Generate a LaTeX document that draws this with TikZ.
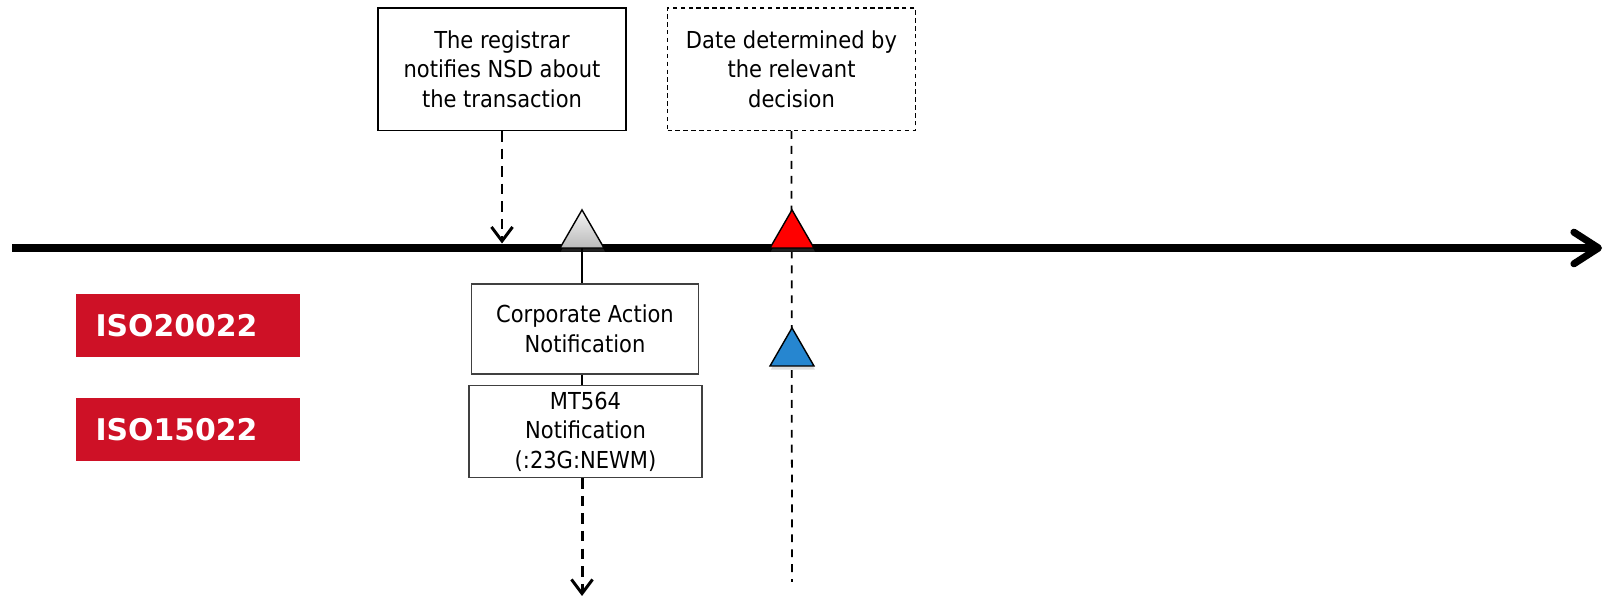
\documentclass[tikz,border=0pt]{standalone}
\usepackage{fontspec}
\setmainfont{DejaVu Sans Condensed}
\newfontfamily\isofont{DejaVu Sans}
\usetikzlibrary{shapes.geometric,arrows.meta,shadows}

\definecolor{isored}{RGB}{206,17,38}
\definecolor{markblue}{RGB}{38,134,208}

\tikzset{
	note/.style={draw, line width=0.6pt, align=center, minimum width=4.96cm, minimum height=2.45cm, font=\fontsize{13.3}{17}\selectfont},
	msg/.style={draw=black!75, line width=0.6pt, fill=white, align=center, minimum width=4.54cm, minimum height=1.8cm, font=\fontsize{13.3}{17}\selectfont},
	iso/.style={fill=isored, text=white, font=\isofont\bfseries\fontsize{17}{20}\selectfont, minimum height=1.26cm, inner xsep=0.39cm, text width=3.7cm, align=left},
	marker/.style={regular polygon, regular polygon sides=3, minimum size=1.016cm, inner sep=0pt, outer sep=0pt, draw, line width=0.8pt, anchor=south, drop shadow={shadow xshift=0.5pt, shadow yshift=-2pt, opacity=0.25}},
	flow/.style={dash pattern=on 6pt off 4pt, line width=1.7pt, -{Straight Barb[length=8pt,width=12pt]}},
	guide/.style={dash pattern=on 4.5pt off 4pt, line width=1pt},
}

\begin{document}
\begin{tikzpicture}

	\useasboundingbox (0,0) rectangle (32.24,11.98);

	% boxes above the time line
	\node(box1) at (10.04,10.595)[note]{The registrar\\notifies NSD about\\the transaction};
	\node(box2) at (15.83,10.595)[note, dash pattern=on 2.5pt off 2pt]{Date determined by\\the relevant\\decision};

	% time line
	\coordinate(start) at (0.24,7.02);
	\coordinate(end) at (32.04,7.02);
	\draw[line width=4pt, -{Straight Barb[round,length=14pt,width=18pt]}] (start) -- (end);

	\coordinate(notify) at (10.04,7.11);
	\coordinate(decend) at (15.84,0.34);
	\coordinate(caend) at (11.64,0.06);

	% dates on the line
	\draw[guide] (box2.south) -- (decend);
	\node(gray) at (11.64,7.02)[marker, top color=white!92!gray, bottom color=gray!55]{};
	\node(red) at (15.84,7.02)[marker, fill=red]{};
	\node(blue) at (15.84,4.66)[marker, fill=markblue]{};

	% messages
	\node(ca) at (11.70,5.40)[msg]{Corporate Action\\Notification};
	\node(mt) at (11.71,3.345)[msg, minimum width=4.66cm, minimum height=1.81cm]{MT564\\Notification\\(:23G:NEWM)};

	\node(iso20) at (3.76,5.47)[iso]{ISO20022};
	\node(iso15) at (3.76,3.39)[iso]{ISO15022};

		\draw[flow] (box1.south) -- (notify);
		\draw[line width=1.5pt] (gray.south) -- (gray.south |- ca.north);
		\draw[line width=1.5pt] (gray.south |- ca.south) -- (gray.south |- mt.north);
		\draw[flow] (gray.south |- mt.south) -- (caend);

\end{tikzpicture}
\end{document}
